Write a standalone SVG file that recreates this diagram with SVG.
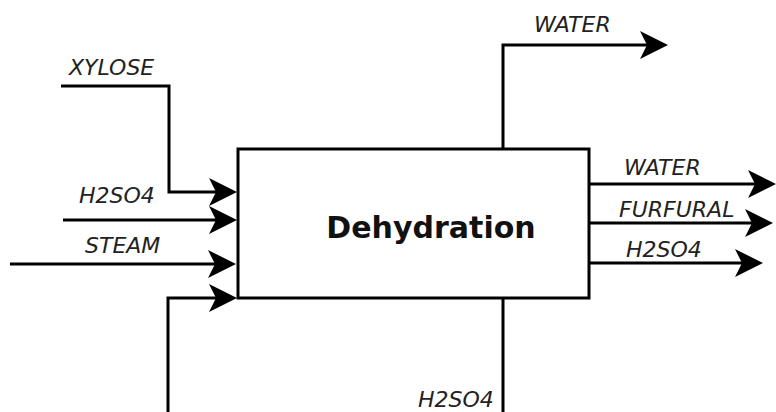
<svg xmlns="http://www.w3.org/2000/svg" width="776" height="412" viewBox="0 0 776 412">
<defs>
<style>
.ln{fill:none;stroke:#000;stroke-width:3;}
.lbl{font-family:"DejaVu Sans",Verdana,sans-serif;font-style:italic;font-size:22px;fill:#222;}
.ttl{font-family:"DejaVu Sans",Verdana,sans-serif;font-weight:bold;font-size:30px;fill:#111;}
</style>
<marker id="ah" viewBox="0 0 28 28" refX="18" refY="14" markerWidth="28" markerHeight="28" markerUnits="userSpaceOnUse" orient="auto">
<path d="M0,0 L28,14 L0,28 L7,14 Z" fill="#000"/>
</marker>
</defs>
<rect width="776" height="412" fill="#fff"/>
<g id="connectors">
<path class="ln" d="M61,86 H169 V192 H227" marker-end="url(#ah)"/>
<path class="ln" d="M63,220 H227" marker-end="url(#ah)"/>
<path class="ln" d="M10,264 H226" marker-end="url(#ah)"/>
<path class="ln" d="M168,412 V298 H227" marker-end="url(#ah)"/>
<path class="ln" d="M503,149 V45 H658" marker-end="url(#ah)"/>
<path class="ln" d="M589,184 H766" marker-end="url(#ah)"/>
<path class="ln" d="M589,223 H763" marker-end="url(#ah)"/>
<path class="ln" d="M589,263 H753" marker-end="url(#ah)"/>
<path class="ln" d="M503,298 V412"/>
</g>
<g id="dehydration">
<rect class="ln" x="238" y="149" width="351" height="149" fill="#fff"/>
<text class="ttl" x="431" y="238" text-anchor="middle">Dehydration</text>
</g>
<g id="labels">
<text class="lbl" x="69" y="75">XYLOSE</text>
<text class="lbl" x="79" y="203">H2SO4</text>
<text class="lbl" x="85" y="253">STEAM</text>
<text class="lbl" x="534" y="32">WATER</text>
<text class="lbl" x="624" y="175">WATER</text>
<text class="lbl" x="619" y="217">FURFURAL</text>
<text class="lbl" x="626" y="257">H2SO4</text>
<text class="lbl" x="418" y="407">H2SO4</text>
</g>
</svg>
